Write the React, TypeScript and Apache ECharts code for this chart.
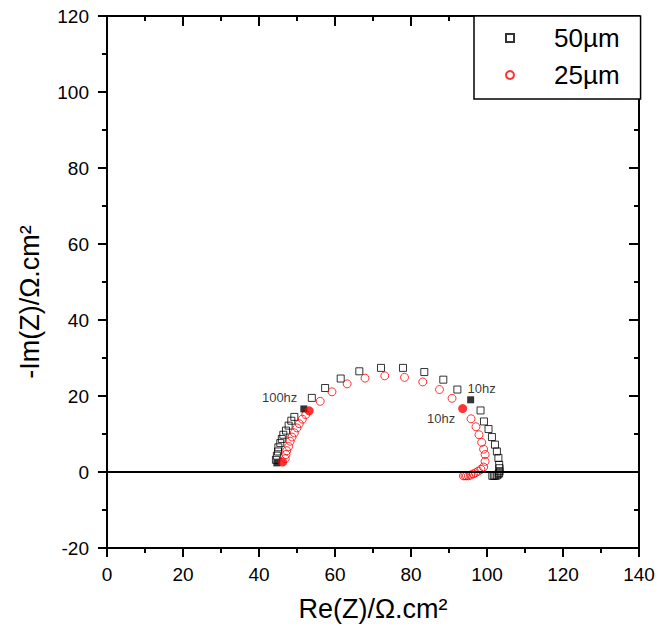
import React, { useEffect, useRef } from "react";
import * as echarts from "echarts";

// 50 µm (hollow black squares): Re(Z), -Im(Z)
const re50 = [44.45, 44.7, 45.0, 45.1, 45.6, 46.0, 46.4, 47.1, 47.8, 48.5, 49.3, 53.9, 57.4, 61.5, 66.4, 72.1, 77.9, 83.5, 88.5, 92.2, 98.3, 99.2, 100.4, 101.3, 102.1, 102.6, 103.0, 103.2, 103.3, 103.3, 103.2, 103.0, 102.6, 102.2, 101.8, 101.4];
const im50 = [3.2, 4.3, 5.4, 6.5, 7.6, 8.7, 9.8, 10.9, 12.2, 13.5, 14.5, 19.5, 22.1, 24.6, 26.5, 27.4, 27.4, 26.3, 24.3, 21.7, 16.2, 13.3, 11.3, 9.2, 7.2, 5.4, 3.7, 1.9, 1.0, 0.2, -0.3, -0.6, -0.9, -1.0, -1.0, -1.0];
// 50 µm marked points (filled squares)
const re50Marked = [44.7, 51.8, 95.7];
const im50Marked = [2.4, 16.6, 19.0];
const labels50 = ["", "100hz", "10hz"];

// 25 µm (hollow red circles)
const re25 = [46.9, 47.1, 47.3, 47.8, 48.2, 48.7, 49.3, 50.0, 50.6, 51.4, 52.3, 56.1, 59.2, 63.2, 67.9, 73.1, 78.3, 83.1, 87.5, 90.8, 95.8, 97.1, 97.9, 98.6, 99.1, 99.5, 99.5, 99.1, 98.4, 97.7, 97.0, 96.4, 95.7, 95.1, 94.6, 94.2, 93.8];
const im25 = [3.5, 4.6, 5.6, 6.7, 8.1, 9.2, 10.3, 11.6, 12.7, 13.9, 15.1, 18.6, 21.1, 23.2, 24.7, 25.3, 24.9, 23.7, 21.7, 19.4, 14.0, 11.9, 9.8, 7.8, 6.0, 4.6, 2.8, 1.3, 0.7, 0.2, -0.2, -0.5, -0.8, -1.0, -1.0, -1.0, -1.0];
// 25 µm marked points (filled circles)
const re25Marked = [46.2, 53.2, 93.6];
const im25Marked = [2.6, 16.1, 16.7];
const labels25 = ["", "", "10hz"];

const seriesNames = ["50µm", "25µm"];
const xTitle = "Re(Z)/Ω.cm²";
const yTitle = "-Im(Z)/Ω.cm²";

const FONT = "Liberation Sans, Arial, sans-serif";

export default function App() {
  const ref = useRef<HTMLDivElement>(null);
  useEffect(() => {
    document.body.style.margin = "0";
    const chart = echarts.init(ref.current!, null, { renderer: "svg" });
    const pts = (xs: number[], ys: number[]) => xs.map((x, i) => [x, ys[i]]);

    const labelFor = (txt: string, kind: string) => {
      if (!txt) return { show: false };
      if (txt === "100hz")
        return { show: true, formatter: txt, position: "left", distance: 3, offset: [0, -11], fontSize: 13, color: "#000", fontFamily: FONT };
      if (kind === "black")
        return { show: true, formatter: txt, position: "top", distance: 5, offset: [11, 4], fontSize: 13, color: "#000", fontFamily: FONT };
      return { show: true, formatter: txt, position: "left", distance: 3, offset: [0, 10], fontSize: 13, color: "#000", fontFamily: FONT };
    };

    const axisCommon = {
      axisLine: { show: true, onZero: false, lineStyle: { color: "#000", width: 2 } },
      splitLine: { show: false },
      minorSplitLine: { show: false },
    };

    chart.setOption({
      animation: false,
      textStyle: { fontFamily: FONT },
      grid: { left: 107, right: 20, top: 16, bottom: 85, containLabel: false },
      legend: {
        data: seriesNames,
        orient: "vertical",
        left: 474,
        top: 16,
        padding: [9, 21, 11, 31],
        itemGap: 11,
        itemWidth: 8,
        itemHeight: 8,
        borderColor: "#000",
        borderWidth: 1.5,
        backgroundColor: "#fff",
        formatter: (n: string) => "{p|}{t|" + n + "}",
        textStyle: {
          rich: {
            p: { width: 35 },
            t: { fontSize: 26, color: "#000", fontFamily: FONT },
          },
        },
      },
      xAxis: [
        {
          type: "value",
          position: "bottom",
          min: 0,
          max: 140,
          interval: 20,
          ...axisCommon,
          axisTick: { show: true, inside: false, length: 9, lineStyle: { color: "#000", width: 2 } },
          minorTick: { show: true, splitNumber: 2, length: 5, lineStyle: { color: "#000", width: 2 } },
          axisLabel: { fontSize: 19, color: "#000", margin: 17, fontFamily: FONT },
          name: xTitle,
          nameLocation: "middle",
          nameGap: 47,
          nameTextStyle: { fontSize: 27, color: "#000", fontFamily: FONT },
        },
        {
          type: "value",
          position: "top",
          min: 0,
          max: 140,
          interval: 20,
          ...axisCommon,
          axisTick: { show: true, inside: true, length: 10, lineStyle: { color: "#000", width: 2 } },
          minorTick: { show: true, splitNumber: 2, length: 5, lineStyle: { color: "#000", width: 2 } },
          axisLabel: { show: false },
        },
      ],
      yAxis: [
        {
          type: "value",
          position: "left",
          min: -20,
          max: 120,
          interval: 20,
          ...axisCommon,
          axisTick: { show: true, inside: false, length: 9, lineStyle: { color: "#000", width: 2 } },
          minorTick: { show: true, splitNumber: 2, length: 5, lineStyle: { color: "#000", width: 2 } },
          axisLabel: { fontSize: 19, color: "#000", margin: 18, fontFamily: FONT },
          name: yTitle,
          nameLocation: "middle",
          nameRotate: 90,
          nameGap: 64,
          nameTextStyle: { fontSize: 27, color: "#000", fontFamily: FONT, padding: [0, 40, 0, 0] },
        },
        {
          type: "value",
          position: "right",
          min: -20,
          max: 120,
          interval: 20,
          ...axisCommon,
          axisTick: { show: true, inside: true, length: 10, lineStyle: { color: "#000", width: 2 } },
          minorTick: { show: true, splitNumber: 2, length: 5, lineStyle: { color: "#000", width: 2 } },
          axisLabel: { show: false },
        },
      ],
      series: [
        {
          name: seriesNames[0],
          type: "scatter",
          xAxisIndex: 0,
          yAxisIndex: 0,
          symbol: "rect",
          symbolSize: 7,
          itemStyle: { color: "rgba(255,255,255,0)", borderColor: "#000", borderWidth: 1 },
          data: pts(re50, im50),
          z: 3,
          markLine: {
            silent: true,
            symbol: ["none", "none"],
            label: { show: false },
            lineStyle: { color: "#000", width: 2, type: "solid" },
            data: [{ yAxis: 0 }],
          },
        },
        {
          name: seriesNames[1],
          type: "scatter",
          xAxisIndex: 0,
          yAxisIndex: 0,
          symbol: "circle",
          symbolSize: 8,
          itemStyle: { color: "rgba(255,255,255,0)", borderColor: "#ff0000", borderWidth: 1 },
          data: pts(re25, im25),
          z: 4,
        },
        {
          name: "50µm marked",
          type: "scatter",
          symbol: "rect",
          symbolSize: 7,
          itemStyle: { color: "#000" },
          data: re50Marked.map((x, i) => ({ value: [x, im50Marked[i]], label: labelFor(labels50[i], "black") })),
          z: 5,
        },
        {
          name: "25µm marked",
          type: "scatter",
          symbol: "circle",
          symbolSize: 9,
          itemStyle: { color: "#ff0000" },
          data: re25Marked.map((x, i) => ({ value: [x, im25Marked[i]], label: labelFor(labels25[i], "red") })),
          z: 5,
        },
      ],
    });
    return () => chart.dispose();
  }, []);
  return <div ref={ref} style={{ width: 659, height: 633 }} />;
}
